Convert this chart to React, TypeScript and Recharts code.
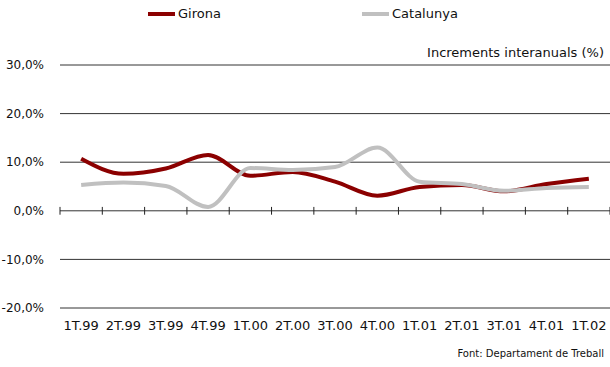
import { LineChart, Line, XAxis, YAxis, CartesianGrid, ReferenceLine, Legend } from "recharts";

const FONT = "'DejaVu Sans', sans-serif";

// Quarterly year-on-year change (%)
const quarters = ["1T.99", "2T.99", "3T.99", "4T.99", "1T.00", "2T.00", "3T.00", "4T.00", "1T.01", "2T.01", "3T.01", "4T.01", "1T.02"];
const girona = [10.7, 7.6, 8.7, 11.5, 7.2, 8.0, 6.0, 3.1, 4.9, 5.3, 4.0, 5.5, 6.6];
const catalunya = [5.3, 5.8, 5.1, 0.8, 8.8, 8.4, 9.0, 13.0, 6.0, 5.5, 4.1, 4.7, 4.9];
const yTicks = [-20, -10, 0, 10, 20, 30];

const SERIES = [
    { key: "girona", name: "Girona", color: "#8b0000" },
    { key: "catalunya", name: "Catalunya", color: "#c0c0c0" },
];
const LEGEND_LEFT = [148, 362];

const fmtPct = (v: number) => `${v.toFixed(1).replace(".", ",")}%`;

function ChartLegend() {
    return (
        <div style={{ position: "relative", width: 610, height: 20, fontFamily: FONT, fontSize: 13, color: "#111" }}>
            {SERIES.map((s, i) => (
                <div key={s.key} style={{ position: "absolute", left: LEGEND_LEFT[i], top: 0, display: "flex", alignItems: "center" }}>
                    <span style={{ display: "inline-block", width: 27, height: 4, background: s.color, marginRight: 3 }} />
                    <span>{s.name}</span>
                </div>
            ))}
        </div>
    );
}

export default function App() {
    const data = quarters.map((q, i) => ({ pos: i + 0.5, q, girona: girona[i], catalunya: catalunya[i] }));
    const boundaries = quarters.map((_, i) => i).concat(quarters.length);

    return (
        <div style={{ position: "absolute", left: 0, top: 0, width: 610, height: 367, background: "#fff", fontFamily: FONT }}>
            <LineChart width={610} height={367} data={data} margin={{ top: 65, right: 0, bottom: 29, left: 0 }}>
                <CartesianGrid vertical={false} stroke="#333" />
                <XAxis
                    type="number"
                    dataKey="pos"
                    domain={[0, quarters.length]}
                    ticks={data.map((d) => d.pos)}
                    interval={0}
                    height={30}
                    tickFormatter={(v) => quarters[Math.floor(v)]}
                    axisLine={false}
                    tickLine={false}
                    tickSize={0}
                    tickMargin={13}
                    tick={{ fill: "#111", fontSize: 13, fontFamily: FONT }}
                />
                <YAxis
                    domain={[-20, 30]}
                    ticks={yTicks}
                    width={60}
                    axisLine={false}
                    tickLine={false}
                    tickSize={0}
                    tickMargin={16}
                    tickFormatter={fmtPct}
                    tick={{ fill: "#111", fontSize: 12, fontFamily: FONT }}
                />
                {boundaries.map((b) => (
                    <ReferenceLine key={b} segment={[{ x: b, y: 0.8 }, { x: b, y: -0.8 }]} stroke="#222" />
                ))}
                {SERIES.map((s) => (
                    <Line
                        key={s.key}
                        dataKey={s.key}
                        name={s.name}
                        type="monotone"
                        stroke={s.color}
                        strokeWidth={4}
                        dot={false}
                        activeDot={false}
                        isAnimationActive={false}
                    />
                ))}
                <Legend
                    layout="horizontal"
                    verticalAlign="middle"
                    align="center"
                    wrapperStyle={{ top: 6, left: 0, width: 610 }}
                    content={() => <ChartLegend />}
                />
            </LineChart>
            <div style={{ position: "absolute", right: 6, top: 45, fontSize: 13, color: "#111" }}>Increments interanuals (%)</div>
            <div style={{ position: "absolute", right: 6, top: 348, fontSize: 10, color: "#111" }}>Font: Departament de Treball</div>
        </div>
    );
}
